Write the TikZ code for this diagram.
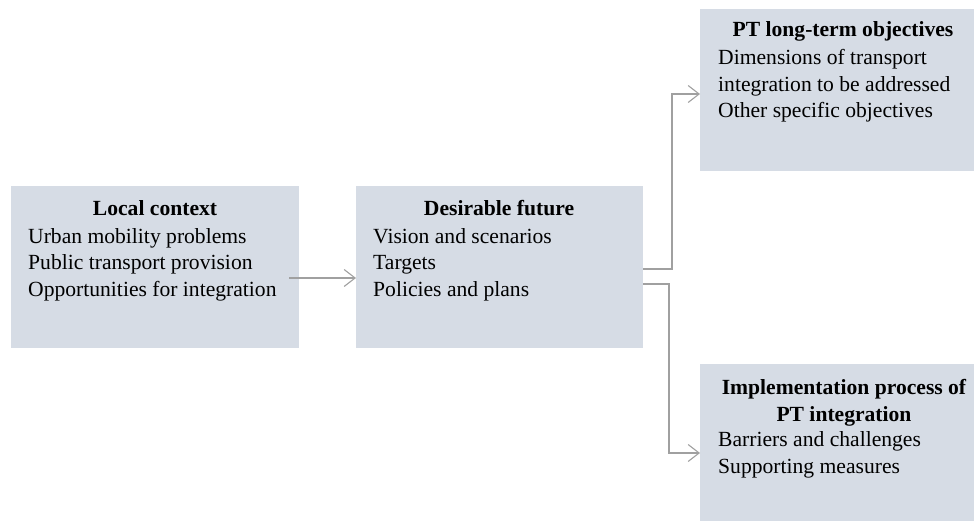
\documentclass[tikz,border=0pt]{standalone}
\usepackage{fontspec}
\setmainfont{Liberation Serif}
\usetikzlibrary{arrows.meta}
\definecolor{boxfill}{HTML}{D6DCE5}
\definecolor{linegray}{HTML}{A0A0A0}
\tikzset{
  box/.style={fill=boxfill, draw=none, inner sep=0pt, anchor=north west},
  head/.style={font=\fontsize{21.6pt}{26.8pt}\selectfont\bfseries, inner sep=0pt, anchor=base, align=center},
  body/.style={font=\fontsize{21.6pt}{26.8pt}\selectfont, inner sep=0pt, anchor=base west, align=left},
  conn/.style={draw=linegray, line width=1.1pt, -{Straight Barb[length=11pt,width=17pt,line width=1.1pt]}},
}
\begin{document}
\begin{tikzpicture}[x=1pt,y=-1pt]
\useasboundingbox (0,0) rectangle (974,521);
% boxes
\node[box, minimum width=288pt, minimum height=162pt] (b1) at (11,186) {};
\node[box, minimum width=287pt, minimum height=162pt] (b2) at (356,186) {};
\node[box, minimum width=290pt, minimum height=162pt] (b3) at (700,9) {};
\node[box, minimum width=290pt, minimum height=162pt] (b4) at (700,364) {};
% texts (anchor = baseline of last line)
\node[head] (h1) at (155,216) {Local context};
\node[body] (t1) at (28,296.6) {Urban mobility problems\\Public transport provision\\Opportunities for integration};
\node[head] (h2) at (499,216) {Desirable future};
\node[body] (t2) at (373,296.6) {Vision and scenarios\\Targets\\Policies and plans};
\node[head] (h3) at (843,37) {PT long-term objectives};
\node[body] (t3) at (718,118) {Dimensions of transport\\integration to be addressed\\Other specific objectives};
\node[head] (h4) at (844,421.5) {Implementation process of\\PT integration};
\node[body] (t4) at (718,473.5) {Barriers and challenges\\Supporting measures};
% connectors
\coordinate (s1) at (289,278);
\draw[conn] (s1) -- (s1 -| b2.west);
\coordinate (s2) at (643,269);
\coordinate (e2) at (700,94);
\draw[conn] (s2) -- (672,269) |- (e2);
\coordinate (s3) at (643,284);
\coordinate (e3) at (700,453);
\draw[conn] (s3) -- (669,284) |- (e3);
\end{tikzpicture}
\end{document}
